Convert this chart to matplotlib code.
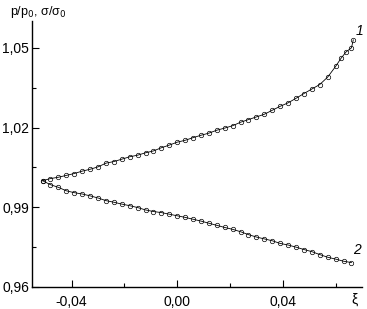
import matplotlib.pyplot as plt
from matplotlib.ticker import FixedLocator, MultipleLocator

plt.rcParams['font.family'] = ['Liberation Sans', 'DejaVu Sans']

# curve 1 (p/p0)
x1 = [-0.051, -0.048, -0.045, -0.042, -0.039, -0.036, -0.033, -0.030, -0.027,
      -0.024, -0.021, -0.018, -0.015, -0.012, -0.009, -0.006, -0.003, 0.000,
      0.003, 0.006, 0.009, 0.012, 0.015, 0.018, 0.021, 0.024, 0.027, 0.030,
      0.033, 0.036, 0.039, 0.042, 0.045, 0.048, 0.051, 0.054, 0.057, 0.060,
      0.062, 0.064, 0.066, 0.0667]
y1 = [1.0000, 1.0008, 1.0013, 1.0020, 1.0027, 1.0036, 1.0043, 1.0052, 1.0066,
      1.0072, 1.0081, 1.0090, 1.0096, 1.0105, 1.0112, 1.0124, 1.0134, 1.0145,
      1.0152, 1.0162, 1.0171, 1.0179, 1.0190, 1.0198, 1.0207, 1.0220, 1.0230,
      1.0240, 1.0250, 1.0265, 1.0280, 1.0293, 1.0310, 1.0328, 1.0345, 1.0362,
      1.0390, 1.0430, 1.0460, 1.0485, 1.0500, 1.0530]

# curve 2 (sigma/sigma0)
x2 = [-0.051, -0.048, -0.045, -0.042, -0.039, -0.036, -0.033, -0.030, -0.027,
      -0.024, -0.021, -0.018, -0.015, -0.012, -0.009, -0.006, -0.003, 0.000,
      0.003, 0.006, 0.009, 0.012, 0.015, 0.018, 0.021, 0.024, 0.027, 0.030,
      0.033, 0.036, 0.039, 0.042, 0.045, 0.048, 0.051, 0.054, 0.057, 0.060,
      0.063, 0.066]
y2 = [1.0000, 0.9985, 0.9975, 0.9962, 0.9955, 0.9950, 0.9943, 0.9935, 0.9925,
      0.9919, 0.9912, 0.9906, 0.9899, 0.9890, 0.9884, 0.9880, 0.9874, 0.9868,
      0.9862, 0.9855, 0.9848, 0.9840, 0.9832, 0.9824, 0.9817, 0.9808, 0.9797,
      0.9788, 0.9781, 0.9774, 0.9764, 0.9758, 0.9750, 0.9741, 0.9733, 0.9722,
      0.9712, 0.9705, 0.9697, 0.9692]

xticks = [-0.04, 0.00, 0.04]
xtick_labels = ['-0,04', '0,00', '0,04']
yticks = [0.96, 0.99, 1.02, 1.05]
ytick_labels = ['0,96', '0,99', '1,02', '1,05']

fig = plt.figure(figsize=(3.67, 3.09), dpi=100)
ax = fig.add_axes([0.0872, 0.0712, 0.8992, 0.860])

for xs, ys in [(x1, y1), (x2, y2)]:
    ax.plot(xs, ys, color='black', lw=0.6, marker='o', ms=3.2,
            mfc='none', mec='black', mew=0.5)

ax.set_xlim(-0.055, 0.07)
ax.set_ylim(0.96, 1.06)

ax.xaxis.set_major_locator(FixedLocator(xticks))
ax.set_xticklabels(xtick_labels)
ax.xaxis.set_minor_locator(MultipleLocator(0.02))
ax.yaxis.set_major_locator(FixedLocator(yticks))
ax.set_yticklabels(ytick_labels)
ax.yaxis.set_minor_locator(MultipleLocator(0.015))

ax.spines['top'].set_visible(False)
ax.spines['right'].set_visible(False)
for s in ['left', 'bottom']:
    ax.spines[s].set_linewidth(1.0)
ax.tick_params(which='both', direction='in', labelsize=10, width=0.8)
ax.tick_params(axis='x', which='major', length=5, pad=6)
ax.tick_params(axis='y', which='major', length=5, pad=2)
ax.tick_params(which='minor', length=3)

ax.text(0.0675, 1.0565, '1', fontsize=10, style='italic', ha='left', va='center')
ax.text(0.0668, 0.9740, '2', fontsize=10, style='italic', ha='left', va='center')

fig.text(10 / 367, 1 - 12 / 309, r'p/p$_0$, σ/σ$_0$', fontsize=9,
         ha='left', va='center')
fig.text(351 / 367, 1 - 300 / 309, 'ξ', fontsize=10, ha='left', va='center')

fig.savefig('out.png', dpi=100)
